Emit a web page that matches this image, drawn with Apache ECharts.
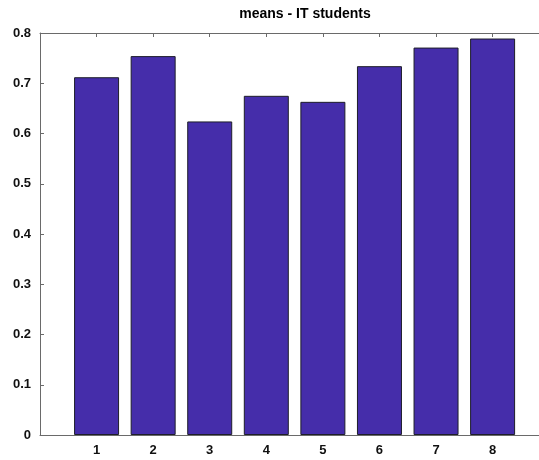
<!DOCTYPE html>
<html>
<head>
<meta charset="utf-8">
<script src="https://cdn.jsdelivr.net/npm/echarts@6/dist/echarts.min.js"></script>
<style>
  html, body { margin: 0; padding: 0; background: #fff; }
  #chart { width: 539px; height: 460px; }
</style>
</head>
<body>
<div id="chart"></div>
<script>
// Group numbers and their mean scores
const groups = [1, 2, 3, 4, 5, 6, 7, 8];
const means = [0.712, 0.754, 0.624, 0.675, 0.663, 0.734, 0.771, 0.789];
const yTicks = [0, 0.1, 0.2, 0.3, 0.4, 0.5, 0.6, 0.7, 0.8];
const chartTitle = 'means - IT students';

// x range: the axis runs from 0 and the visible part stops just short of 9
const xMin = 0;
const xMax = 8.82;

const axisColor = '#6a6a6a';
const labelFont = { color: '#111', fontWeight: 'bold', fontSize: 13, fontFamily: 'Arial, "Liberation Sans", sans-serif' };

const chart = echarts.init(document.getElementById('chart'));
chart.setOption({
  animation: false,
  title: {
    text: chartTitle,
    left: 300, top: 2, textAlign: 'center',
    textStyle: { fontSize: 14, fontWeight: 'bold', color: '#000', fontFamily: 'Arial, "Liberation Sans", sans-serif' }
  },
  grid: { left: 40, top: 33, right: 0, bottom: 25 },
  xAxis: [{
    type: 'value', min: xMin, max: xMax, interval: 1, position: 'bottom',
    axisLine: { show: true, lineStyle: { color: axisColor, width: 1 } },
    axisTick: { show: true, inside: true, length: 4, lineStyle: { color: axisColor } },
    splitLine: { show: false },
    axisLabel: Object.assign({
      margin: 9,
      showMaxLabel: false,
      formatter: v => groups.includes(v) ? String(v) : ''
    }, labelFont)
  }, {
    type: 'value', min: xMin, max: xMax, interval: 1, position: 'top',
    axisLine: { show: true, lineStyle: { color: axisColor, width: 1 } },
    axisTick: { show: true, inside: true, length: 4, lineStyle: { color: axisColor } },
    splitLine: { show: false },
    axisLabel: { show: false }
  }],
  yAxis: {
    type: 'value', min: yTicks[0], max: yTicks[yTicks.length - 1], interval: 0.1,
    axisLine: { show: true, lineStyle: { color: axisColor, width: 1 } },
    axisTick: { show: true, inside: true, length: 4, lineStyle: { color: axisColor } },
    splitLine: { show: false },
    axisLabel: Object.assign({
      margin: 9,
      formatter: v => (Math.round(v * 10) / 10).toString()
    }, labelFont)
  },
  series: [{
    type: 'bar',
    xAxisIndex: 0,
    barWidth: 45,
    data: groups.map((g, i) => [g, means[i]]),
    itemStyle: { color: '#452daa', borderColor: '#1e1e2a', borderWidth: 1 },
    z: 1
  }]
});
</script>
</body>
</html>
